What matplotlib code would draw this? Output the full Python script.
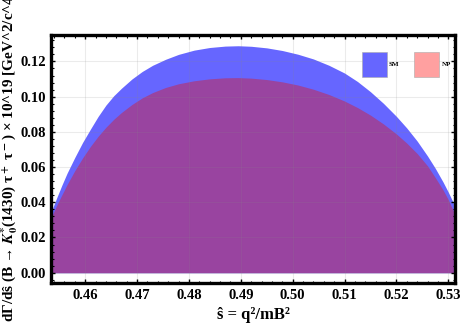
import numpy as np
import matplotlib.pyplot as plt
from matplotlib.patches import Patch
from matplotlib.ticker import MultipleLocator, AutoMinorLocator

# values
s_sm = [0.4537, 0.4545, 0.4555, 0.4565, 0.4580, 0.4595, 0.4610, 0.4625, 0.4640,
        0.4655, 0.4670, 0.4690, 0.4710, 0.4730, 0.4755, 0.4780, 0.4810, 0.4840,
        0.4870, 0.4895, 0.4920, 0.4950, 0.4980, 0.5010, 0.5040, 0.5070, 0.5100,
        0.5125, 0.5150, 0.5175, 0.5200, 0.5220, 0.5240, 0.5260, 0.5275, 0.5290,
        0.5300, 0.5310]
dg_sm = [0.0365, 0.0425, 0.0497, 0.0565, 0.0655, 0.0740, 0.0815, 0.0888, 0.0952,
         0.1005, 0.1048, 0.1100, 0.1143, 0.1178, 0.1212, 0.1240, 0.1264, 0.1279,
         0.1287, 0.1289, 0.1286, 0.1277, 0.1262, 0.1241, 0.1214, 0.1178, 0.1134,
         0.1086, 0.1028, 0.0962, 0.0888, 0.0822, 0.0748, 0.0663, 0.0593, 0.0515,
         0.0458, 0.0396]

s_np = [0.4537, 0.4545, 0.4555, 0.4565, 0.4580, 0.4595, 0.4610, 0.4625, 0.4640,
        0.4655, 0.4670, 0.4690, 0.4710, 0.4730, 0.4755, 0.4780, 0.4810, 0.4840,
        0.4870, 0.4895, 0.4920, 0.4950, 0.4980, 0.5010, 0.5040, 0.5070, 0.5100,
        0.5125, 0.5150, 0.5175, 0.5200, 0.5220, 0.5240, 0.5260, 0.5275, 0.5290,
        0.5300, 0.5310]
dg_np = [0.0330, 0.0382, 0.0442, 0.0500, 0.0580, 0.0652, 0.0717, 0.0775, 0.0826,
         0.0871, 0.0910, 0.0955, 0.0993, 0.1023, 0.1052, 0.1073, 0.1090, 0.1101,
         0.1107, 0.1108, 0.1105, 0.1097, 0.1084, 0.1066, 0.1042, 0.1012, 0.0975,
         0.0938, 0.0895, 0.0845, 0.0788, 0.0736, 0.0677, 0.0607, 0.0540, 0.0470,
         0.0415, 0.0350]

c_sm = '#6666ff'
c_np = '#ffa0a0'
c_overlap = '#9944a0'

plt.rcParams['font.family'] = 'Liberation Serif'
plt.rcParams['font.weight'] = 'bold'
plt.rcParams['mathtext.fontset'] = 'stix'

fig = plt.figure(figsize=(4.63, 3.29), dpi=100)
ax = fig.add_axes([0.1112, 0.139, 0.8715, 0.7546])

ax.fill_between(s_sm, 0, dg_sm, color=c_sm, lw=0, zorder=1)
ax.fill_between(s_np, 0, dg_np, color=c_overlap, lw=0, zorder=2)

ax.set_xlim(0.4535, 0.5313)
ax.set_ylim(-0.006, 0.135)
ax.xaxis.set_major_locator(MultipleLocator(0.01))
ax.yaxis.set_major_locator(MultipleLocator(0.02))
ax.xaxis.set_minor_locator(AutoMinorLocator(5))
ax.yaxis.set_minor_locator(AutoMinorLocator(5))
ax.xaxis.set_major_formatter(plt.FormatStrFormatter('%.2f'))
ax.yaxis.set_major_formatter(plt.FormatStrFormatter('%.2f'))

ax.grid(True, which='major', color='#888888', alpha=0.16, lw=0.8, zorder=3)
ax.set_axisbelow(False)
for sp in ax.spines.values():
    sp.set_linewidth(2.4)
    sp.set_zorder(5)
ax.tick_params(which='both', direction='in', top=True, right=True,
               labelsize=10.5, pad=4)
ax.tick_params(which='major', length=3, width=1)
ax.tick_params(which='minor', length=1.8, width=0.8)

ax.set_xlabel('ŝ = q²/mB²', fontsize=12, fontweight='bold', labelpad=4)
# the label is longer than the figure, it gets cut at the top like the original
fig.text(0.021, 0.021,
         r'dΓ/dŝ (B → $\mathbfit{K}_\mathbf{0}^\mathbf{*}$(1430) τ$^+$ τ$^-$) × 10^19 [GeV^2/c^4]',
         rotation=90, ha='center', va='bottom', fontsize=11, fontweight='bold')

handles = [Patch(facecolor=c_sm, edgecolor='#aaaaaa', lw=0.4),
           Patch(facecolor=c_np, edgecolor='#aaaaaa', lw=0.4)]
ax.legend(handles, ['SM', 'NP'], loc='upper right', ncol=2, frameon=False,
          fontsize=5, handlelength=3.6, handleheight=5.2, handletextpad=0.3,
          columnspacing=2.2, bbox_to_anchor=(1.0, 0.95), borderaxespad=0.2)

fig.savefig('out.png', dpi=100)
